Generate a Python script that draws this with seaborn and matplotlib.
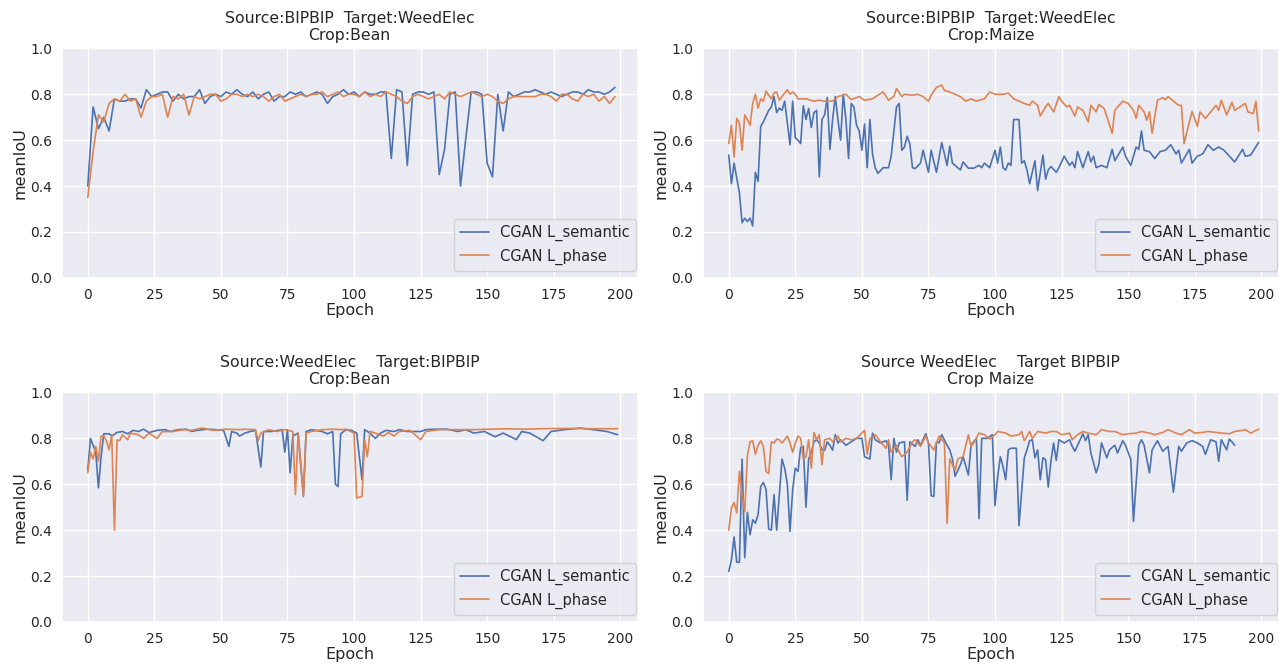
import matplotlib
matplotlib.use("Agg")
import matplotlib.pyplot as plt
import seaborn as sns

# ---- data ----
# top left: Source BIPBIP -> Target WeedElec, Bean
tl_epoch = list(range(0, 200, 2))
tl_semantic = [
    0.40, 0.745, 0.65, 0.70, 0.64, 0.78, 0.77, 0.77, 0.78, 0.78,
    0.74, 0.82, 0.79, 0.80, 0.81, 0.81, 0.77, 0.80, 0.78, 0.79,
    0.79, 0.82, 0.76, 0.79, 0.80, 0.79, 0.81, 0.80, 0.82, 0.80,
    0.79, 0.81, 0.78, 0.80, 0.81, 0.77, 0.79, 0.79, 0.81, 0.80,
    0.81, 0.79, 0.80, 0.81, 0.80, 0.76, 0.79, 0.80, 0.82, 0.80,
    0.81, 0.79, 0.81, 0.80, 0.80, 0.81, 0.81, 0.52, 0.82, 0.81,
    0.49, 0.80, 0.81, 0.81, 0.80, 0.81, 0.45, 0.56, 0.80, 0.81,
    0.40, 0.61, 0.81, 0.81, 0.80, 0.50, 0.44, 0.80, 0.64, 0.81,
    0.79, 0.80, 0.81, 0.81, 0.82, 0.81, 0.80, 0.81, 0.80, 0.79,
    0.80, 0.81, 0.81, 0.80, 0.82, 0.81, 0.81, 0.80, 0.81, 0.83,
]
tl_phase = [
    0.35, 0.55, 0.71, 0.68, 0.76, 0.78, 0.77, 0.80, 0.77, 0.78,
    0.70, 0.77, 0.79, 0.79, 0.80, 0.70, 0.79, 0.78, 0.80, 0.71,
    0.79, 0.78, 0.79, 0.80, 0.80, 0.77, 0.78, 0.80, 0.80, 0.79,
    0.80, 0.79, 0.80, 0.79, 0.77, 0.79, 0.80, 0.77, 0.78, 0.79,
    0.80, 0.79, 0.80, 0.80, 0.81, 0.79, 0.80, 0.81, 0.79, 0.80,
    0.80, 0.79, 0.81, 0.79, 0.80, 0.79, 0.81, 0.80, 0.79, 0.77,
    0.76, 0.79, 0.80, 0.79, 0.78, 0.79, 0.80, 0.78, 0.81, 0.80,
    0.79, 0.80, 0.81, 0.80, 0.79, 0.80, 0.79, 0.77, 0.76, 0.78,
    0.79, 0.79, 0.79, 0.79, 0.79, 0.80, 0.80, 0.79, 0.77, 0.80,
    0.80, 0.78, 0.77, 0.80, 0.79, 0.80, 0.77, 0.79, 0.76, 0.79,
]

# top right: Source BIPBIP -> Target WeedElec, Maize
tr_sem_epoch = [
    0, 1, 2, 4, 5, 6, 7, 8, 9, 10, 11, 12, 13, 15, 16, 17, 18, 19, 20, 21,
    23, 24, 25, 26, 27, 28, 29, 30, 31, 32, 33, 34, 35, 36, 37, 38, 39, 40, 41, 42,
    43, 44, 45, 46, 47, 48, 49, 50, 51, 52, 53, 54, 55, 56, 58, 60, 61, 63, 64, 65,
    66, 67, 68, 69, 70, 72, 73, 75, 76, 78, 80, 82, 83, 84, 87, 88, 90, 92, 94, 95,
    96, 98, 100, 101, 102, 103, 104, 105, 106, 107, 109, 110, 111, 112, 113, 115, 116, 118, 119, 120,
    121, 123, 124, 126, 128, 129, 130, 131, 133, 135, 136, 137, 138, 140, 142, 144, 145, 148, 149, 151,
    153, 154, 155, 156, 158, 160, 162, 164, 166, 168, 169, 170, 173, 174, 176, 178, 180, 182, 184, 186,
    190, 193, 194, 196, 199,
]
tr_sem_val = [
    0.535, 0.41, 0.50, 0.37, 0.24, 0.26, 0.245, 0.26, 0.226, 0.46, 0.42, 0.66, 0.68, 0.73, 0.745, 0.79, 0.72, 0.74, 0.73, 0.77,
    0.58, 0.77, 0.61, 0.60, 0.585, 0.75, 0.69, 0.738, 0.655, 0.72, 0.73, 0.44, 0.69, 0.71, 0.786, 0.56, 0.69, 0.79, 0.69, 0.60,
    0.80, 0.69, 0.52, 0.76, 0.745, 0.665, 0.64, 0.556, 0.67, 0.48, 0.69, 0.54, 0.48, 0.455, 0.48, 0.48, 0.53, 0.745, 0.76, 0.556,
    0.57, 0.617, 0.585, 0.48, 0.476, 0.50, 0.556, 0.46, 0.556, 0.46, 0.59, 0.49, 0.574, 0.50, 0.47, 0.505, 0.478, 0.478, 0.49, 0.48,
    0.50, 0.48, 0.556, 0.50, 0.57, 0.48, 0.47, 0.50, 0.49, 0.69, 0.69, 0.50, 0.51, 0.47, 0.41, 0.51, 0.38, 0.535, 0.43, 0.47,
    0.485, 0.46, 0.48, 0.53, 0.49, 0.505, 0.48, 0.55, 0.48, 0.55, 0.505, 0.53, 0.48, 0.49, 0.48, 0.56, 0.51, 0.57, 0.53, 0.49,
    0.57, 0.56, 0.64, 0.556, 0.55, 0.52, 0.55, 0.556, 0.58, 0.54, 0.556, 0.50, 0.56, 0.50, 0.53, 0.54, 0.58, 0.556, 0.57, 0.556,
    0.505, 0.56, 0.53, 0.535, 0.59,
]
tr_pha_epoch = [
    0, 1, 2, 3, 4, 5, 6, 7, 8, 9, 10, 11, 12, 13, 14, 15, 16, 17, 18, 19,
    20, 22, 23, 24, 25, 26, 29, 32, 34, 36, 39, 41, 44, 46, 49, 51, 54, 56, 58, 60,
    62, 63, 65, 66, 69, 71, 73, 75, 76, 78, 80, 81, 83, 85, 87, 89, 91, 93, 94, 96,
    98, 100, 103, 105, 107, 109, 111, 113, 114, 116, 117, 119, 120, 122, 124, 125, 127, 128, 130, 131,
    133, 135, 136, 138, 139, 141, 144, 145, 148, 150, 152, 153, 154, 156, 157, 158, 159, 161, 163, 164,
    165, 167, 169, 170, 171, 173, 174, 176, 177, 179, 181, 183, 184, 185, 187, 189, 190, 192, 194, 195,
    197, 198, 199,
]
tr_pha_val = [
    0.585, 0.665, 0.527, 0.695, 0.675, 0.556, 0.71, 0.69, 0.665, 0.76, 0.80, 0.74, 0.78, 0.77, 0.814, 0.796, 0.78, 0.806, 0.81, 0.774,
    0.79, 0.82, 0.80, 0.81, 0.80, 0.78, 0.78, 0.77, 0.774, 0.77, 0.77, 0.79, 0.80, 0.777, 0.79, 0.774, 0.78, 0.796, 0.81, 0.774,
    0.79, 0.825, 0.79, 0.80, 0.796, 0.80, 0.79, 0.77, 0.796, 0.83, 0.84, 0.817, 0.81, 0.80, 0.79, 0.77, 0.78, 0.77, 0.774, 0.78,
    0.81, 0.80, 0.80, 0.805, 0.78, 0.77, 0.76, 0.752, 0.77, 0.752, 0.705, 0.745, 0.76, 0.723, 0.79, 0.77, 0.745, 0.752, 0.705, 0.745,
    0.73, 0.68, 0.752, 0.723, 0.756, 0.738, 0.63, 0.73, 0.77, 0.76, 0.73, 0.695, 0.752, 0.723, 0.687, 0.723, 0.63, 0.774, 0.785, 0.777,
    0.79, 0.77, 0.752, 0.752, 0.585, 0.68, 0.725, 0.66, 0.723, 0.695, 0.723, 0.752, 0.73, 0.774, 0.71, 0.765, 0.73, 0.745, 0.76, 0.723,
    0.716, 0.77, 0.64,
]

# bottom left: Source WeedElec -> Target BIPBIP, Bean
bl_sem_epoch = [
    0, 1, 2, 3, 4, 5, 6, 8, 9, 11, 13, 15, 17, 19, 21, 23, 26, 29, 31, 34,
    37, 39, 41, 43, 45, 48, 51, 53, 54, 56, 57, 59, 61, 63, 65, 66, 69, 73, 74, 75,
    76, 77, 79, 81, 82, 84, 88, 90, 92, 93, 94, 95, 97, 99, 101, 103, 104, 106, 108, 110,
    112, 115, 117, 120, 125, 127, 131, 135, 139, 142, 145, 149, 153, 156, 161, 163, 166, 171, 174, 179,
    185, 190, 195, 199,
]
bl_sem_val = [
    0.66, 0.80, 0.77, 0.74, 0.584, 0.72, 0.82, 0.82, 0.81, 0.826, 0.83, 0.82, 0.835, 0.83, 0.84, 0.825, 0.835, 0.838, 0.83, 0.838,
    0.84, 0.83, 0.835, 0.838, 0.84, 0.838, 0.835, 0.765, 0.83, 0.823, 0.81, 0.823, 0.83, 0.835, 0.675, 0.83, 0.83, 0.838, 0.74, 0.838,
    0.65, 0.81, 0.823, 0.547, 0.83, 0.838, 0.83, 0.82, 0.83, 0.60, 0.59, 0.82, 0.838, 0.835, 0.823, 0.62, 0.838, 0.823, 0.80, 0.823,
    0.835, 0.83, 0.838, 0.83, 0.83, 0.838, 0.84, 0.84, 0.83, 0.838, 0.823, 0.83, 0.807, 0.823, 0.795, 0.83, 0.823, 0.79, 0.83, 0.838,
    0.845, 0.838, 0.83, 0.816,
]
bl_pha_epoch = [
    0, 1, 2, 3, 4, 5, 6, 7, 8, 9, 10, 11, 12, 13, 15, 16, 19, 21, 23, 26,
    28, 32, 36, 39, 43, 47, 52, 57, 59, 63, 64, 65, 68, 71, 74, 77, 78, 79, 81, 82,
    84, 88, 92, 96, 97, 100, 101, 103, 104, 105, 106, 108, 111, 113, 115, 117, 121, 125, 127, 132,
    139, 145, 151, 157, 164, 170, 176, 182, 189, 195, 199,
]
bl_pha_val = [
    0.65, 0.74, 0.71, 0.765, 0.70, 0.81, 0.81, 0.79, 0.75, 0.816, 0.40, 0.794, 0.79, 0.816, 0.794, 0.823, 0.816, 0.80, 0.823, 0.80,
    0.83, 0.83, 0.838, 0.835, 0.845, 0.835, 0.84, 0.838, 0.84, 0.838, 0.79, 0.823, 0.838, 0.83, 0.838, 0.83, 0.555, 0.823, 0.55, 0.823,
    0.83, 0.838, 0.84, 0.838, 0.84, 0.823, 0.54, 0.547, 0.794, 0.72, 0.83, 0.823, 0.81, 0.826, 0.81, 0.83, 0.835, 0.794, 0.83, 0.838,
    0.838, 0.838, 0.84, 0.842, 0.84, 0.842, 0.843, 0.843, 0.842, 0.842, 0.842,
]

# bottom right: Source WeedElec -> Target BIPBIP, Maize
br_sem_epoch = [
    0, 1, 2, 3, 4, 5, 6, 7, 8, 9, 10, 11, 12, 13, 14, 15, 16, 17, 18, 20,
    21, 22, 23, 24, 25, 26, 27, 28, 29, 30, 31, 32, 33, 34, 35, 36, 37, 38, 39, 40,
    41, 42, 44, 46, 48, 50, 51, 53, 54, 55, 57, 59, 60, 61, 62, 63, 64, 66, 67, 68,
    70, 71, 72, 74, 75, 76, 77, 78, 79, 80, 82, 83, 84, 85, 87, 88, 90, 91, 93, 94,
    95, 97, 99, 100, 101, 102, 103, 104, 105, 106, 108, 109, 111, 112, 113, 114, 115, 116, 117, 118,
    119, 120, 121, 122, 123, 124, 126, 128, 129, 130, 132, 133, 134, 135, 136, 138, 139, 140, 142, 143,
    145, 146, 148, 149, 151, 152, 154, 155, 156, 158, 159, 161, 163, 165, 167, 169, 170, 172, 174, 176,
    178, 179, 181, 183, 184, 185, 187, 188, 189, 190,
]
br_sem_val = [
    0.22, 0.27, 0.37, 0.26, 0.26, 0.71, 0.28, 0.478, 0.38, 0.445, 0.43, 0.467, 0.59, 0.608, 0.577, 0.405, 0.40, 0.555, 0.40, 0.71,
    0.67, 0.60, 0.395, 0.577, 0.67, 0.656, 0.76, 0.765, 0.50, 0.71, 0.74, 0.785, 0.794, 0.78, 0.75, 0.748, 0.785, 0.77, 0.748, 0.816,
    0.78, 0.794, 0.77, 0.785, 0.80, 0.80, 0.72, 0.71, 0.823, 0.794, 0.78, 0.79, 0.77, 0.62, 0.80, 0.74, 0.78, 0.785, 0.53, 0.785,
    0.765, 0.794, 0.77, 0.82, 0.78, 0.55, 0.547, 0.785, 0.78, 0.816, 0.77, 0.75, 0.71, 0.635, 0.685, 0.72, 0.64, 0.77, 0.80, 0.45,
    0.80, 0.80, 0.816, 0.507, 0.634, 0.72, 0.677, 0.62, 0.75, 0.757, 0.757, 0.42, 0.715, 0.75, 0.79, 0.794, 0.715, 0.75, 0.62, 0.715,
    0.708, 0.588, 0.70, 0.78, 0.704, 0.794, 0.78, 0.794, 0.765, 0.744, 0.794, 0.82, 0.79, 0.816, 0.736, 0.65, 0.686, 0.78, 0.715, 0.75,
    0.77, 0.736, 0.79, 0.77, 0.708, 0.438, 0.77, 0.794, 0.77, 0.65, 0.75, 0.79, 0.744, 0.765, 0.565, 0.765, 0.744, 0.78, 0.79, 0.78,
    0.765, 0.73, 0.794, 0.785, 0.70, 0.794, 0.75, 0.797, 0.785, 0.77,
]
br_pha_epoch = [
    0, 1, 2, 3, 4, 5, 6, 7, 8, 9, 10, 11, 12, 13, 14, 15, 16, 17, 18, 19,
    20, 22, 23, 24, 25, 26, 27, 28, 29, 30, 31, 32, 33, 34, 35, 36, 38, 39, 40, 41,
    42, 44, 46, 48, 50, 51, 52, 53, 55, 57, 59, 60, 61, 63, 64, 65, 67, 69, 70, 72,
    74, 75, 77, 79, 81, 82, 83, 85, 86, 88, 90, 91, 92, 94, 96, 98, 100, 101, 104, 106,
    109, 110, 111, 113, 114, 116, 119, 121, 123, 125, 128, 129, 131, 133, 135, 138, 140, 143, 145, 148,
    150, 153, 155, 158, 160, 163, 165, 168, 170, 173, 175, 178, 180, 183, 185, 188, 190, 193, 194, 196,
    199,
]
br_pha_val = [
    0.40, 0.497, 0.52, 0.475, 0.657, 0.555, 0.48, 0.725, 0.785, 0.79, 0.73, 0.77, 0.79, 0.765, 0.656, 0.646, 0.785, 0.78, 0.797, 0.794,
    0.78, 0.81, 0.78, 0.74, 0.78, 0.81, 0.80, 0.71, 0.72, 0.794, 0.67, 0.826, 0.794, 0.816, 0.685, 0.794, 0.80, 0.785, 0.80, 0.81,
    0.785, 0.80, 0.794, 0.80, 0.823, 0.835, 0.73, 0.80, 0.816, 0.785, 0.757, 0.794, 0.74, 0.77, 0.74, 0.72, 0.74, 0.785, 0.794, 0.765,
    0.81, 0.78, 0.75, 0.81, 0.78, 0.43, 0.71, 0.66, 0.71, 0.72, 0.816, 0.765, 0.78, 0.823, 0.816, 0.797, 0.816, 0.83, 0.823, 0.81,
    0.816, 0.83, 0.79, 0.83, 0.80, 0.83, 0.823, 0.83, 0.83, 0.816, 0.823, 0.794, 0.816, 0.83, 0.823, 0.816, 0.838, 0.83, 0.83, 0.816,
    0.82, 0.823, 0.83, 0.823, 0.816, 0.826, 0.838, 0.823, 0.816, 0.838, 0.823, 0.826, 0.83, 0.826, 0.823, 0.82, 0.83, 0.835, 0.838, 0.823,
    0.84,
]

titles = [
    "Source:BIPBIP  Target:WeedElec\nCrop:Bean",
    "Source:BIPBIP  Target:WeedElec\nCrop:Maize",
    "Source:WeedElec    Target:BIPBIP\nCrop:Bean",
    "Source WeedElec    Target BIPBIP\nCrop Maize",
]

panels = [
    (tl_epoch, tl_semantic, tl_epoch, tl_phase),
    (tr_sem_epoch, tr_sem_val, tr_pha_epoch, tr_pha_val),
    (bl_sem_epoch, bl_sem_val, bl_pha_epoch, bl_pha_val),
    (br_sem_epoch, br_sem_val, br_pha_epoch, br_pha_val),
]

sns.set_theme()
pal = sns.color_palette("deep")

fig, axes = plt.subplots(2, 2, figsize=(12.85, 6.63), dpi=100)
fig.subplots_adjust(left=0.048, right=0.995, bottom=0.062, top=0.927,
                    wspace=0.113, hspace=0.5)

for ax, (xs, ys, xp, yp), title in zip(axes.flat, panels, titles):
    sns.lineplot(x=xs, y=ys, ax=ax, color=pal[0], lw=1.2, label="CGAN L_semantic")
    sns.lineplot(x=xp, y=yp, ax=ax, color=pal[1], lw=1.2, label="CGAN L_phase")
    ax.set_ylim(0, 1.0)
    ax.set_xlim(-9.8, 206.5)
    ax.set_xticks(range(0, 201, 25))
    ax.set_yticks([0.0, 0.2, 0.4, 0.6, 0.8, 1.0])
    ax.tick_params(length=0, pad=7, labelsize=10)
    ax.set_title(title, fontsize=11.3)
    ax.set_xlabel("Epoch", fontsize=11.5, labelpad=1)
    ax.set_ylabel("meanIoU", fontsize=11.5, labelpad=2)
    ax.legend(loc="lower right", bbox_to_anchor=(1.01, 0.0), fontsize=10.5)

fig.savefig("out.png", dpi=100)
